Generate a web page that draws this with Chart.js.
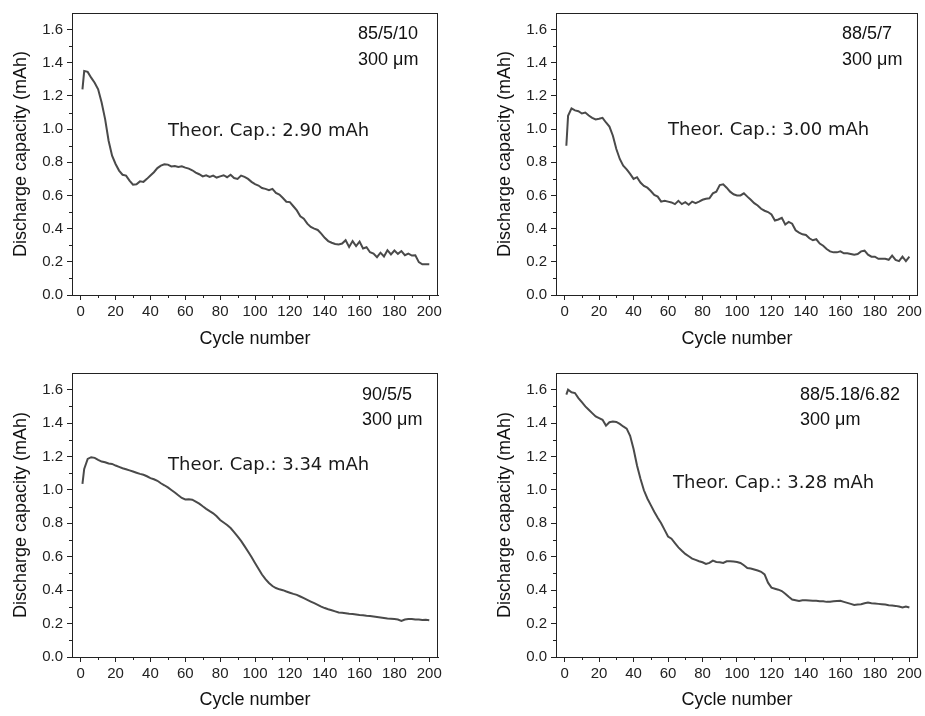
<!DOCTYPE html>
<html>
<head>
<meta charset="utf-8">
<script src="https://cdn.jsdelivr.net/npm/chart.js@4.4.1/dist/chart.umd.min.js"></script>
<style>
  body { margin: 0; background: #fff; }
  #wrap { position: relative; width: 925px; height: 716px; background: #fff; }
  #wrap canvas { position: absolute; }
</style>
</head>
<body>
<div id="wrap">
  <canvas id="c1" width="462" height="360" style="left:0px;top:0px"></canvas>
  <canvas id="c2" width="463" height="360" style="left:462px;top:0px"></canvas>
  <canvas id="c3" width="462" height="356" style="left:0px;top:360px"></canvas>
  <canvas id="c4" width="463" height="356" style="left:462px;top:360px"></canvas>
</div>
<script>
// cycle numbers (every 2nd cycle)
const cycles = [1, 2, 4, 6, 8, 10, 12, 14, 16, 18, 20,
  22, 24, 26, 28, 30, 32, 34, 36, 38, 40,
  42, 44, 46, 48, 50, 52, 54, 56, 58, 60,
  62, 64, 66, 68, 70, 72, 74, 76, 78, 80,
  82, 84, 86, 88, 90, 92, 94, 96, 98, 100,
  102, 104, 106, 108, 110, 112, 114, 116, 118, 120,
  122, 124, 126, 128, 130, 132, 134, 136, 138, 140,
  142, 144, 146, 148, 150, 152, 154, 156, 158, 160,
  162, 164, 166, 168, 170, 172, 174, 176, 178, 180,
  182, 184, 186, 188, 190, 192, 194, 196, 198, 200];

// discharge capacity (mAh)
const cap_85_5_10 = [1.24, 1.35, 1.345, 1.31, 1.28, 1.24, 1.16, 1.06, 0.93, 0.84, 0.79,
  0.75, 0.725, 0.72, 0.69, 0.665, 0.668, 0.685, 0.682, 0.70, 0.72,
  0.74, 0.765, 0.78, 0.788, 0.786, 0.775, 0.778, 0.772, 0.776, 0.768,
  0.762, 0.752, 0.738, 0.728, 0.715, 0.722, 0.712, 0.72, 0.708, 0.715,
  0.722, 0.71, 0.725, 0.705, 0.70, 0.72, 0.712, 0.70, 0.682, 0.668,
  0.66, 0.645, 0.64, 0.632, 0.64, 0.615, 0.605, 0.585, 0.562, 0.56,
  0.535, 0.51, 0.475, 0.46, 0.43, 0.41, 0.40, 0.392, 0.37, 0.345,
  0.325, 0.315, 0.308, 0.305, 0.31, 0.33, 0.29, 0.325, 0.295, 0.322,
  0.28, 0.288, 0.258, 0.25, 0.228, 0.255, 0.232, 0.27, 0.245, 0.268,
  0.248, 0.265, 0.24, 0.25, 0.238, 0.24, 0.198, 0.185, 0.186, 0.185];

const cap_88_5_7 = [0.90, 1.08, 1.125, 1.113, 1.108, 1.094, 1.10, 1.082, 1.068, 1.058, 1.062,
  1.068, 1.04, 1.015, 0.96, 0.88, 0.82, 0.78, 0.757, 0.73, 0.70,
  0.71, 0.678, 0.658, 0.647, 0.627, 0.603, 0.593, 0.563, 0.568, 0.563,
  0.558, 0.548, 0.568, 0.548, 0.56, 0.544, 0.563, 0.554, 0.563, 0.574,
  0.58, 0.583, 0.613, 0.623, 0.663, 0.667, 0.647, 0.623, 0.607, 0.60,
  0.60, 0.613, 0.593, 0.574, 0.554, 0.54, 0.52, 0.508, 0.50, 0.485,
  0.449, 0.455, 0.465, 0.425, 0.441, 0.43, 0.39, 0.376, 0.366, 0.362,
  0.342, 0.33, 0.336, 0.31, 0.297, 0.277, 0.263, 0.257, 0.257, 0.263,
  0.251, 0.251, 0.247, 0.243, 0.247, 0.263, 0.267, 0.243, 0.231, 0.231,
  0.218, 0.218, 0.218, 0.212, 0.237, 0.212, 0.204, 0.231, 0.204, 0.231];

const cap_90_5_5 = [1.037, 1.126, 1.186, 1.196, 1.192, 1.18, 1.17, 1.166, 1.158, 1.156, 1.146,
  1.138, 1.13, 1.124, 1.117, 1.11, 1.103, 1.096, 1.091, 1.082, 1.071,
  1.064, 1.055, 1.04, 1.028, 1.015, 1.0, 0.985, 0.968, 0.952, 0.943,
  0.944, 0.942, 0.93, 0.918, 0.902, 0.887, 0.873, 0.86, 0.842, 0.82,
  0.805, 0.79, 0.772, 0.748, 0.722, 0.695, 0.664, 0.632, 0.598, 0.563,
  0.528, 0.494, 0.466, 0.443, 0.425, 0.413, 0.405, 0.40, 0.392, 0.385,
  0.378, 0.372, 0.362, 0.352, 0.342, 0.332, 0.322, 0.312, 0.302, 0.293,
  0.286, 0.28, 0.273, 0.266, 0.265, 0.262, 0.259, 0.257, 0.254, 0.251,
  0.25, 0.247, 0.246, 0.243, 0.24, 0.237, 0.234, 0.231, 0.229, 0.227,
  0.224, 0.216, 0.224, 0.227, 0.228, 0.225, 0.224, 0.221, 0.223, 0.22];

const cap_88_518_682 = [1.571, 1.60, 1.585, 1.58, 1.55, 1.525, 1.50, 1.48, 1.46, 1.44, 1.43,
  1.42, 1.385, 1.405, 1.41, 1.407, 1.395, 1.38, 1.367, 1.324, 1.245,
  1.146, 1.067, 0.998, 0.949, 0.909, 0.87, 0.834, 0.80, 0.761, 0.721,
  0.708, 0.682, 0.656, 0.636, 0.617, 0.603, 0.589, 0.581, 0.573, 0.567,
  0.557, 0.563, 0.577, 0.569, 0.567, 0.563, 0.573, 0.573, 0.571, 0.569,
  0.563, 0.549, 0.533, 0.53, 0.524, 0.518, 0.51, 0.494, 0.445, 0.415,
  0.409, 0.403, 0.395, 0.379, 0.36, 0.344, 0.34, 0.336, 0.34, 0.34,
  0.338, 0.336, 0.337, 0.334, 0.333, 0.33, 0.331, 0.334, 0.335, 0.336,
  0.33, 0.324, 0.318, 0.312, 0.314, 0.316, 0.322, 0.326, 0.322, 0.32,
  0.318, 0.316, 0.314, 0.31, 0.308, 0.306, 0.302, 0.296, 0.302, 0.296];

// tick labels
const xTicks = [0, 20, 40, 60, 80, 100, 120, 140, 160, 180, 200];
const xMinor = [10, 30, 50, 70, 90, 110, 130, 150, 170, 190];
const yTicks = [0, 0.2, 0.4, 0.6, 0.8, 1.0, 1.2, 1.4, 1.6];
const yMinor = [0.1, 0.3, 0.5, 0.7, 0.9, 1.1, 1.3, 1.5];

const panels = [
  { id: 'c1', data: cap_85_5_10, name: '85/5/10', theor: 'Theor. Cap.: 2.90 mAh',
    yw: 72, padR: 24, padT: 6, xh: 65, ytPad: 10, xtPad: 10,
    lab: [358, 39, 65], th: [168, 136] },
  { id: 'c2', data: cap_88_5_7, name: '88/5/7', theor: 'Theor. Cap.: 3.00 mAh',
    yw: 94, padR: 5, padT: 7, xh: 65, ytPad: 32, xtPad: 10,
    lab: [380, 39, 65], th: [206, 135] },
  { id: 'c3', data: cap_90_5_5, name: '90/5/5', theor: 'Theor. Cap.: 3.34 mAh',
    yw: 72, padR: 24, padT: 9, xh: 59, ytPad: 10, xtPad: 5,
    lab: [362, 40, 65], th: [168, 110] },
  { id: 'c4', data: cap_88_518_682, name: '88/5.18/6.82', theor: 'Theor. Cap.: 3.28 mAh',
    yw: 94, padR: 5, padT: 9, xh: 59, ytPad: 32, xtPad: 5,
    lab: [338, 40, 65], th: [211, 128] }
];

const frame = {
  id: 'frame',
  beforeDraw(chart) {
    const ctx = chart.ctx;
    ctx.save();
    ctx.fillStyle = '#fff';
    ctx.fillRect(0, 0, chart.width, chart.height);
    ctx.restore();
  },
  afterDraw(chart) {
    const { ctx, chartArea: a, scales: { x, y } } = chart;
    const p = chart.options.plugins.frame;
    ctx.save();
    ctx.strokeStyle = '#222';
    ctx.lineWidth = 1;
    ctx.strokeRect(a.left + 0.5, a.top + 0.5, a.right - a.left - 1, a.bottom - a.top);
    ctx.beginPath();
    xMinor.forEach(v => {
      const px = Math.round(x.getPixelForValue(v)) + 0.5;
      ctx.moveTo(px, a.bottom);
      ctx.lineTo(px, a.bottom + 3);
    });
    yMinor.forEach(v => {
      const py = Math.round(y.getPixelForValue(v)) + 0.5;
      ctx.moveTo(a.left, py);
      ctx.lineTo(a.left - 3, py);
    });
    ctx.stroke();
    ctx.fillStyle = '#111';
    ctx.textAlign = 'left';
    ctx.textBaseline = 'alphabetic';
    ctx.font = '18px "Liberation Sans", Arial, sans-serif';
    ctx.fillText(p.name, p.lab[0], p.lab[1]);
    ctx.fillText('300 \u03bcm', p.lab[0], p.lab[2]);
    ctx.fillStyle = '#1a1a1a';
    ctx.font = '18px "DejaVu Sans", sans-serif';
    ctx.fillText(p.theor, p.th[0], p.th[1]);
    ctx.restore();
  }
};

panels.forEach(p => {
  new Chart(document.getElementById(p.id), {
    type: 'line',
    data: {
      datasets: [{
        data: cycles.map((c, i) => ({ x: c, y: p.data[i] })),
        borderColor: '#4a4a4a',
        borderWidth: 2,
        pointRadius: 0,
        tension: 0,
        fill: false
      }]
    },
    options: {
      responsive: false,
      animation: false,
      layout: { padding: { top: p.padT, right: p.padR, left: 0, bottom: 0 } },
      plugins: {
        legend: { display: false },
        tooltip: { enabled: false },
        frame: p
      },
      scales: {
        x: {
          type: 'linear',
          min: -5,
          max: 205,
          afterBuildTicks: s => { s.ticks = xTicks.map(v => ({ value: v })); },
          afterFit: s => { s.height = p.xh; },
          grid: { drawOnChartArea: false, drawTicks: true, tickLength: 5, tickColor: '#222' },
          border: { display: true, color: '#222', width: 1 },
          ticks: { color: '#222', padding: 3, maxRotation: 0, font: { size: 15, family: '"Liberation Sans", Arial, sans-serif' } },
          title: { display: true, text: 'Cycle number', color: '#111',
            padding: { top: 0, bottom: p.xtPad },
            font: { size: 18, family: '"Liberation Sans", Arial, sans-serif' } }
        },
        y: {
          type: 'linear',
          min: 0,
          max: 1.7,
          afterBuildTicks: s => { s.ticks = yTicks.map(v => ({ value: v })); },
          afterFit: s => { s.width = p.yw; },
          grid: { drawOnChartArea: false, drawTicks: true, tickLength: 5, tickColor: '#222' },
          border: { display: true, color: '#222', width: 1 },
          ticks: { color: '#222', padding: 4, callback: v => v.toFixed(1),
            font: { size: 15, family: '"Liberation Sans", Arial, sans-serif' } },
          title: { display: true, text: 'Discharge capacity (mAh)', color: '#111',
            padding: { top: p.ytPad, bottom: 0 },
            font: { size: 18, family: '"Liberation Sans", Arial, sans-serif' } }
        }
      }
    },
    plugins: [frame]
  });
});
</script>
</body>
</html>
